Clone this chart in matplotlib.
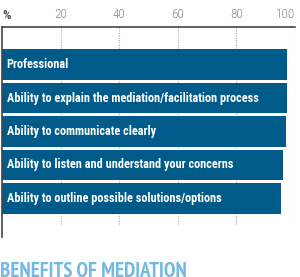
import matplotlib.pyplot as plt

labels = ['Professional',
          'Ability to explain the mediation/facilitation process',
          'Ability to communicate clearly',
          'Ability to listen and understand your concerns',
          'Ability to outline possible solutions/options']
values = [97.3, 97.3, 97.0, 95.9, 95.2]
ticks = [20, 40, 60, 80, 100]

W, H = 300, 277
fig = plt.figure(figsize=(W / 100, H / 100), dpi=100)
ax = fig.add_axes([2 / W, 1 - 237 / H, 293 / W, 210 / H])

narrow = 'Roboto Condensed'
pos = list(range(len(labels)))
ax.barh(pos, values, height=0.9, color='#005b8a', zorder=2)
for p, lab in zip(pos, labels):
    ax.text(1.6, p, lab, color='white', fontweight='bold', family=narrow,
            fontsize=8.8, va='center', ha='left', zorder=3)

for t in ticks:
    ax.axvline(t, ymin=0.062, ymax=1, color='#aaaaaa', lw=0.8,
               linestyle=(0, (1, 1.2)), zorder=1)

ax.set_xlim(0, 100)
ax.set_ylim(len(labels) - 1 + 1.15, -1.12)
ax.xaxis.tick_top()
ax.set_xticks(ticks)
ax.set_xticklabels([str(t) for t in ticks], family=narrow, fontweight='light',
                   fontsize=9.5, color='#8a8a8a')
ax.get_xticklabels()[-1].set_ha('right')
ax.tick_params(axis='x', length=0, pad=4)
ax.set_yticks([])
for s in ['right', 'bottom']:
    ax.spines[s].set_visible(False)
for s in ['top', 'left']:
    ax.spines[s].set_color('#444444')
    ax.spines[s].set_linewidth(1.2)

fig.text(2 / W, 1 - 15.5 / H, '%', family=narrow, fontweight='bold', fontsize=9.5,
         color='#555555', va='center', ha='left')
fig.text(0 / W, 1 - 262 / H, 'BENEFITS OF MEDIATION', family='PT Sans Narrow',
         fontweight='bold', fontsize=15, color='#74b9e4', va='top', ha='left')

fig.savefig('out.png', dpi=100)
